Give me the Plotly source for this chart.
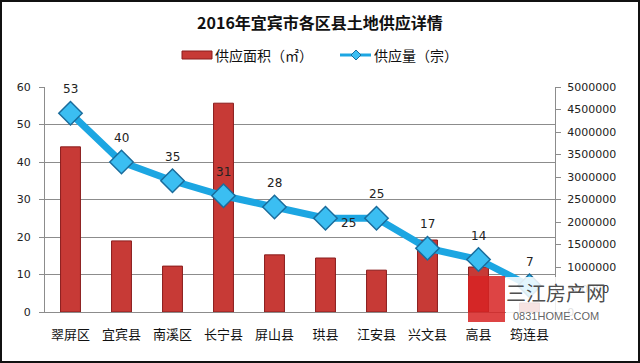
import plotly.graph_objects as go

categories = ["翠屏区", "宜宾县", "南溪区", "长宁县", "屏山县", "珙县", "江安县", "兴文县", "高县", "筠连县"]
area_m2 = [3670000, 1580000, 1020000, 4640000, 1270000, 1200000, 930000, 1600000, 1000000, 200000]
count_zong = [53, 40, 35, 31, 28, 25, 25, 17, 14, 7]
left_ticks = [0, 10, 20, 30, 40, 50, 60]
right_ticks = list(range(0, 5000001, 500000))
series_names = ["供应面积（㎡）", "供应量（宗）"]

W, H = 640, 363
L, R, T, B = 45, 85, 87, 51
PW, PH = W - L - R, H - T - B

def px(x):
    return (x - L) / PW

def py(y):
    return (H - B - y) / PH

CJK = "Noto Sans CJK SC"
NUM = "DejaVu Sans"
BAR_C, BAR_E = "#C73A36", "#8A1C1C"
LINE_C, MK_C, MK_E = "#1CA6E2", "#3BBEF2", "#1A6C9C"

fig = go.Figure()

fig.add_trace(go.Bar(
    x=categories, y=area_m2, name=series_names[0],
    marker=dict(color=BAR_C, line=dict(color=BAR_E, width=1)),
    width=0.39, yaxis="y",
))
fig.add_trace(go.Scatter(
    x=categories, y=count_zong, name=series_names[1], mode="lines+markers",
    line=dict(color=LINE_C, width=7),
    marker=dict(symbol="diamond", size=18, color=MK_C, line=dict(color=MK_E, width=1.5)),
    yaxis="y2",
))

annotations = []
for c, v in zip(categories, count_zong):
    xs, ys = 0, 24
    if c == "珙县":
        xs, ys = 23, -5
    annotations.append(dict(x=c, y=v, xref="x", yref="y2", text=str(v),
                            showarrow=False, xshift=xs, yshift=ys,
                            font=dict(family=NUM, size=12, color="#222")))

def pa(text, x, y, size, color, family=CJK, xanchor="center"):
    return dict(x=px(x), y=py(y), xref="paper", yref="paper", text=text,
                showarrow=False, xanchor=xanchor, yanchor="middle",
                font=dict(family=family, size=size, color=color))

# custom legend
annotations.append(pa(series_names[0], 213, 55, 14, "#111", xanchor="left"))
annotations.append(pa(series_names[1], 372, 55, 14, "#111", xanchor="left"))

# watermark text
annotations.append(pa("三江房产网", 556, 292, 20, "rgba(55,55,55,0.9)"))
annotations.append(pa("0831HOME.COM", 556, 316, 11, "rgba(80,80,80,0.9)",
                      family="Liberation Sans Narrow, Liberation Sans"))

def diamond(cx, cy, r):
    pts = [(cx, cy - r), (cx + r, cy), (cx, cy + r), (cx - r, cy)]
    return "M " + " L ".join(f"{px(a)} {py(b)}" for a, b in pts) + " Z"

shapes = [
    # frame
    dict(type="rect", xref="paper", yref="paper",
         x0=px(1), x1=px(639), y0=py(362), y1=py(1),
         line=dict(color="#111", width=2), fillcolor="rgba(0,0,0,0)", layer="above"),
    # legend symbols
    dict(type="rect", xref="paper", yref="paper", x0=px(182), x1=px(212),
         y0=py(59), y1=py(51), fillcolor=BAR_C, line=dict(color=BAR_E, width=1)),
    dict(type="line", xref="paper", yref="paper", x0=px(340), x1=px(371),
         y0=py(55), y1=py(55), line=dict(color=LINE_C, width=3)),
    dict(type="path", xref="paper", yref="paper", path=diamond(356, 55, 5),
         fillcolor=MK_C, line=dict(color=MK_E, width=1)),
    # watermark
    dict(type="rect", xref="paper", yref="paper", x0=px(506), x1=px(604),
         y0=py(325), y1=py(277), fillcolor="rgba(255,255,255,0.86)",
         line=dict(width=0), layer="above"),
    dict(type="rect", xref="paper", yref="paper", x0=px(468), x1=px(505),
         y0=py(322), y1=py(276), line=dict(width=0),
         fillcolor="rgba(215,35,35,0.85)", layer="above"),
]

fig.update_layout(
    width=W, height=H,
    margin=dict(l=L, r=R, t=T, b=B, autoexpand=False),
    paper_bgcolor="white", plot_bgcolor="white",
    title=dict(text="<b>2016年宜宾市各区县土地供应详情</b>", x=320 / W, xanchor="center",
               y=1 - 23 / H, yanchor="middle",
               font=dict(family=CJK, size=16, color="#111")),
    showlegend=False,
    xaxis=dict(type="category", showgrid=False, showline=True, linecolor="#8C8C8C",
               linewidth=1, ticks="", tickfont=dict(family=CJK, size=13, color="#111"),
               ticklabelstandoff=10, range=[-0.5, 9.5]),
    yaxis=dict(side="right", range=[0, 5000000], tickvals=right_ticks,
               tickformat="d", showgrid=False, showline=True, linecolor="#8C8C8C",
               ticks="outside", ticklen=5, tickcolor="#8C8C8C",
               tickfont=dict(family=NUM, size=11, color="#222"), zeroline=False,
               ticklabelstandoff=4),
    yaxis2=dict(side="left", overlaying="y", range=[0, 60], tickvals=left_ticks,
                showgrid=True, gridcolor="#8C8C8C", gridwidth=1,
                showline=True, linecolor="#8C8C8C", ticks="outside", ticklen=5,
                tickcolor="#8C8C8C", zeroline=False,
                tickfont=dict(family=NUM, size=11, color="#222"),
                ticklabelstandoff=6),
    annotations=annotations,
    shapes=shapes,
)

fig.write_html("out.html", config={"displayModeBar": False},
               post_script="document.body.style.margin='0';document.body.style.overflow='hidden';")
